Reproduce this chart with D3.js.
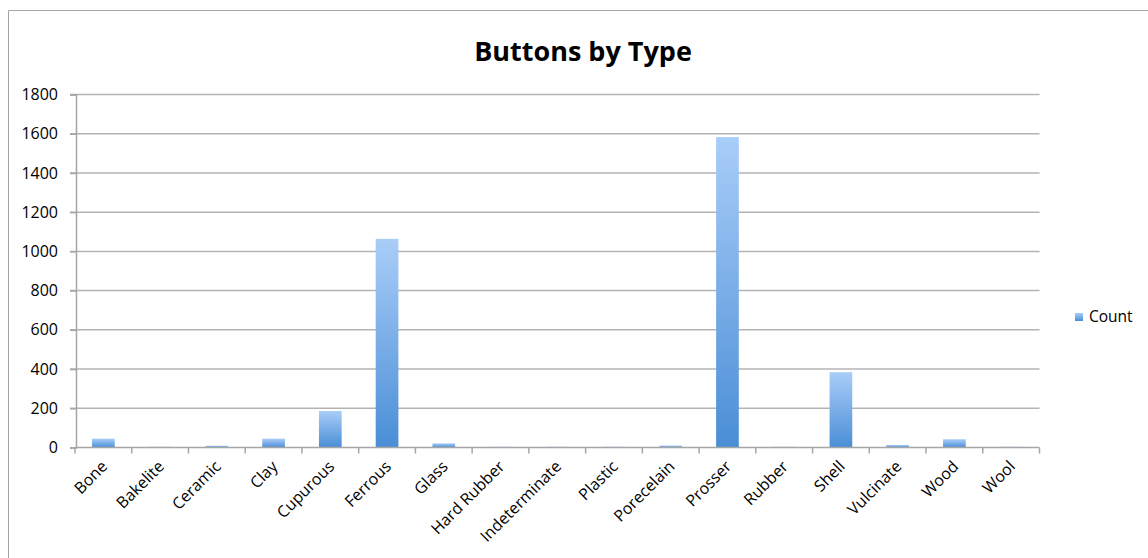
<!DOCTYPE html>
<html>
<head>
<meta charset="utf-8">
<script src="https://cdn.jsdelivr.net/npm/d3@7"></script>
<style>
  html, body { margin: 0; padding: 0; background: #fff; }
  svg { display: block; font-family: "Open Sans", "Noto Sans", sans-serif; }
</style>
</head>
<body>
<svg id="chart" width="1148" height="558"></svg>
<script>
// Button counts by material type
const categories = ["Bone", "Bakelite", "Ceramic", "Clay", "Cupurous", "Ferrous", "Glass",
  "Hard Rubber", "Indeterminate", "Plastic", "Porecelain", "Prosser", "Rubber", "Shell",
  "Vulcinate", "Wood", "Wool"];
const counts = [45, 4, 9, 45, 186, 1064, 21, 4, 4, 4, 10, 1583, 4, 384, 13, 42, 4];
const yTicks = [0, 200, 400, 600, 800, 1000, 1200, 1400, 1600, 1800];
const seriesName = "Count";
const chartTitle = "Buttons by Type";

const svg = d3.select("#chart");
const W = 1148, H = 558;
const plot = { left: 75, right: 1039.5, top: 94.5, bottom: 447.5 };
const font = "'Open Sans', 'Noto Sans', sans-serif";

// Outer frame (top and left edges visible)
svg.append("path")
  .attr("d", `M8.5,${H} V10.5 H${W}`)
  .attr("fill", "none")
  .attr("stroke", "#a6a6a6")
  .attr("stroke-width", 1);

const defs = svg.append("defs");
const grad = defs.append("linearGradient")
  .attr("id", "barGrad")
  .attr("x1", 0).attr("y1", 0).attr("x2", 0).attr("y2", 1);
grad.append("stop").attr("offset", "0%").attr("stop-color", "#a9cdf8");
grad.append("stop").attr("offset", "100%").attr("stop-color", "#4a8ed6");

const x = d3.scaleBand()
  .domain(categories)
  .range([plot.left, plot.right])
  .paddingInner(0.6)
  .paddingOuter(0.3);

const y = d3.scaleLinear()
  .domain([0, 1800])
  .range([plot.bottom, plot.top]);

// Horizontal gridlines
svg.append("g")
  .selectAll("line")
  .data(yTicks.filter(d => d > 0))
  .join("line")
  .attr("x1", plot.left - 5)
  .attr("x2", plot.right)
  .attr("y1", d => y(d))
  .attr("y2", d => y(d))
  .attr("stroke", "#b3b3b3")
  .attr("stroke-width", 1.5);

// Y axis
const yAxis = svg.append("g")
  .attr("transform", `translate(${plot.left + 1},0)`)
  .call(d3.axisLeft(y).tickValues(yTicks).tickSize(6).tickPadding(12).tickFormat(d3.format("d")));
yAxis.attr("font-size", 17).attr("font-family", font);
yAxis.select(".domain").attr("stroke", "#a6a6a6").attr("stroke-width", 1.5);
yAxis.selectAll(".tick line").attr("stroke", "#a6a6a6").attr("stroke-width", 1.5);
yAxis.selectAll("text")
  .style("font-size", "16px")
  .attr("fill", "#000");

// Bars
svg.append("g")
  .selectAll("rect")
  .data(categories.map((c, i) => ({ c, v: counts[i] })))
  .join("rect")
  .attr("x", d => x(d.c))
  .attr("width", x.bandwidth())
  .attr("y", d => y(d.v))
  .attr("height", d => y(0) - y(d.v))
  .attr("fill", "url(#barGrad)");

// X axis with category separators
const xAxis = svg.append("g")
  .attr("transform", `translate(0,${plot.bottom})`);
xAxis.append("line")
  .attr("x1", plot.left).attr("x2", plot.right)
  .attr("stroke", "#a6a6a6").attr("stroke-width", 1.5);
const edges = d3.range(categories.length + 1).map(i => plot.left + i * (plot.right - plot.left) / categories.length);
xAxis.selectAll("line.sep")
  .data(edges)
  .join("line")
  .attr("class", "sep")
  .attr("x1", d => d).attr("x2", d => d)
  .attr("y1", 0).attr("y2", 6)
  .attr("stroke", "#a6a6a6").attr("stroke-width", 1.5);

xAxis.selectAll("text")
  .data(categories)
  .join("text")
  .attr("transform", d => `translate(${x(d) + x.bandwidth() / 2 + 5},${20}) rotate(-45)`)
  .attr("text-anchor", "end")
  .style("font-size", "16px")
  .attr("fill", "#000")
  .text(d => d);

// Title
svg.append("text")
  .attr("x", 583)
  .attr("y", 61)
  .attr("text-anchor", "middle")
  .style("font-size", "27px")
  .attr("font-weight", "bold")
  .attr("fill", "#000")
  .text(chartTitle);

// Legend
const legend = svg.append("g").attr("transform", "translate(1075,313)");
legend.append("rect")
  .attr("width", 8).attr("height", 8)
  .attr("fill", "url(#barGrad)");
legend.append("text")
  .attr("x", 14).attr("y", 4)
  .attr("dy", "0.35em")
  .style("font-size", "15.5px")
  .attr("fill", "#000")
  .text(seriesName);
</script>
</body>
</html>
